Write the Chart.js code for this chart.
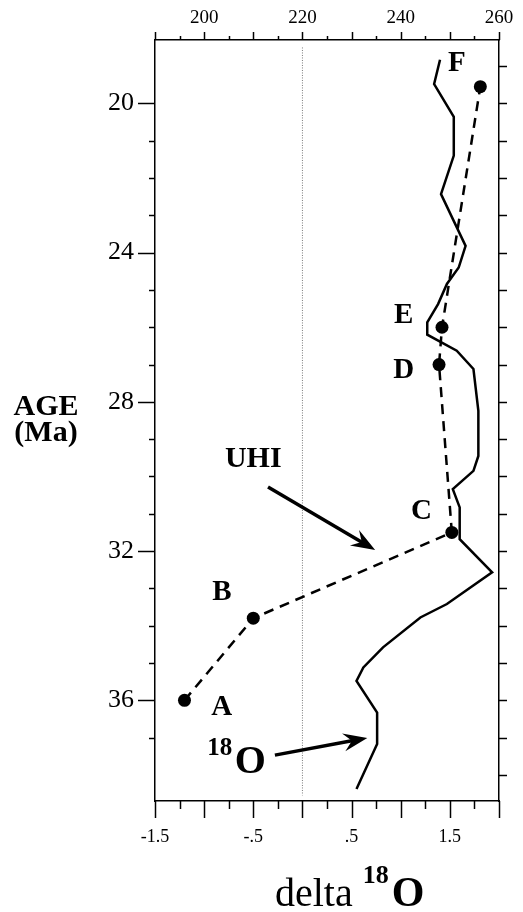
<!DOCTYPE html>
<html>
<head>
<meta charset="utf-8">
<script src="https://cdn.jsdelivr.net/npm/chart.js@4.4.1/dist/chart.umd.min.js"></script>
<style>
  body { margin: 0; background: #fff; }
  canvas { display: block; }
</style>
</head>
<body>
<canvas id="isoChart" width="523" height="912"></canvas>
<script>
// 18O curve (solid line), delta vs age in Ma
const o18Delta = [1.40, 1.34, 1.54, 1.54, 1.41, 1.66, 1.59, 1.47, 1.38, 1.27, 1.27, 1.57, 1.74, 1.79,
                  1.79, 1.74, 1.53, 1.60, 1.60, 1.93, 1.47, 1.20, 0.82, 0.62, 0.55, 0.76, 0.76, 0.55];
const o18Age = [18.83, 19.48, 20.36, 21.40, 22.43, 23.82, 24.40, 24.84, 25.38, 25.87, 26.20, 26.63, 27.12, 28.24,
                29.45, 29.85, 30.34, 30.83, 31.68, 32.57, 33.42, 33.78, 34.58, 35.12, 35.48, 36.33, 37.17, 38.38];

// UHI samples A..F (dashed line with dots)
const uhiNames = ['A', 'B', 'C', 'D', 'E', 'F'];
const uhiDelta = [-1.20, -0.50, 1.52, 1.39, 1.42, 1.81];
const uhiAge = [36.0, 33.8, 31.5, 27.0, 26.0, 19.55];

// dotted reference line at delta = 0
const refDelta = [0, 0];
const refAge = [18.5, 38.55];

// tick labels
const bottomLabels = [-1.5, -0.5, 0.5, 1.5];
const topLabels = [200, 220, 240, 260];
const ageLabels = [20, 24, 28, 32, 36];

const serif = '"Liberation Serif", "DejaVu Serif", serif';

function toPoints(xs, ys) {
    return xs.map((x, i) => ({ x: x, y: ys[i] }));
}

function isMult(v, step) {
    const r = v / step;
    return Math.abs(r - Math.round(r)) < 1e-6;
}

function hasLabel(list, v) {
    return list.some(l => Math.abs(l - v) < 1e-6);
}

// label positions for the sample letters and notes, in data units
const notes = [
    { text: 'F', d: 1.57, a: 18.92, size: 29 },
    { text: 'E', d: 1.03, a: 25.69, size: 29 },
    { text: 'D', d: 1.03, a: 27.17, size: 29 },
    { text: 'C', d: 1.21, a: 30.95, size: 29 },
    { text: 'B', d: -0.82, a: 33.12, size: 29 },
    { text: 'A', d: -0.82, a: 36.20, size: 29 },
    { text: 'UHI', d: -0.50, a: 29.55, size: 30 },
    { text: '18', d: -0.84, a: 37.30, size: 25 },
    { text: 'O', d: -0.53, a: 37.68, size: 40 }
];
const arrows = [
    { d0: -0.35, a0: 30.28, d1: 0.74, a1: 31.97 },
    { d0: -0.28, a0: 37.47, d1: 0.66, a1: 37.01 }
];

const tickSpec = {
    x: { major: v => isMult(v, 0.5), long: 17, short: 8 },
    x2: { major: v => isMult(v, 10), long: 8, short: 4 },
    y: { major: v => isMult(v, 4), long: 17, short: 6 },
    y2: { major: () => true, long: 8, short: 8 }
};

const tickPlugin = {
    id: 'outerTicks',
    afterDraw(chart) {
        const ctx = chart.ctx;
        ctx.save();
        ctx.strokeStyle = '#000';
        ctx.lineWidth = 1.5;
        Object.keys(tickSpec).forEach(id => {
            const s = chart.scales[id];
            const spec = tickSpec[id];
            s.ticks.forEach(t => {
                const p = Math.round(s.getPixelForValue(t.value)) + 0.5;
                const len = spec.major(t.value) ? spec.long : spec.short;
                ctx.beginPath();
                if (s.position === 'bottom') { ctx.moveTo(p, s.top); ctx.lineTo(p, s.top + len); }
                else if (s.position === 'top') { ctx.moveTo(p, s.bottom); ctx.lineTo(p, s.bottom - len); }
                else if (s.position === 'left') { ctx.moveTo(s.right, p); ctx.lineTo(s.right - len, p); }
                else { ctx.moveTo(s.left, p); ctx.lineTo(s.left + len, p); }
                ctx.stroke();
            });
        });
        ctx.restore();
    }
};

function drawArrow(ctx, x0, y0, x1, y1) {
    const ang = Math.atan2(y1 - y0, x1 - x0);
    const headLen = 24, headW = 9;
    ctx.lineWidth = 3.5;
    ctx.beginPath();
    ctx.moveTo(x0, y0);
    ctx.lineTo(x1 - Math.cos(ang) * headLen * 0.6, y1 - Math.sin(ang) * headLen * 0.6);
    ctx.stroke();
    ctx.save();
    ctx.translate(x1, y1);
    ctx.rotate(ang);
    ctx.beginPath();
    ctx.moveTo(0, 0);
    ctx.lineTo(-headLen, -headW);
    ctx.lineTo(-headLen * 0.65, 0);
    ctx.lineTo(-headLen, headW);
    ctx.closePath();
    ctx.fill();
    ctx.restore();
}

const notesPlugin = {
    id: 'notes',
    afterDraw(chart) {
        const ctx = chart.ctx;
        const xs = chart.scales.x, ys = chart.scales.y;
        ctx.save();
        ctx.fillStyle = '#000';
        ctx.strokeStyle = '#000';
        ctx.textAlign = 'center';
        ctx.textBaseline = 'middle';
        notes.forEach(n => {
            ctx.font = 'bold ' + n.size + 'px ' + serif;
            ctx.fillText(n.text, xs.getPixelForValue(n.d), ys.getPixelForValue(n.a));
        });
        arrows.forEach(a => {
            drawArrow(ctx, xs.getPixelForValue(a.d0), ys.getPixelForValue(a.a0),
                xs.getPixelForValue(a.d1), ys.getPixelForValue(a.a1));
        });

        // axis titles
        ctx.textAlign = 'center';
        ctx.textBaseline = 'alphabetic';
        ctx.font = 'bold 30px ' + serif;
        ctx.fillText('AGE', 46, 415);
        ctx.fillText('(Ma)', 46, 441);

        ctx.textAlign = 'left';
        let x = 275;
        ctx.font = '40px ' + serif;
        ctx.fillText('delta', x, 906);
        x += ctx.measureText('delta').width + 10;
        ctx.font = 'bold 26px ' + serif;
        ctx.fillText('18', x, 883);
        x += ctx.measureText('18').width + 3;
        ctx.font = 'bold 42px ' + serif;
        ctx.fillText('O', x, 906);
        ctx.restore();
    }
};

const axisBorder = { display: true, color: '#000', width: 1.5 };

new Chart(document.getElementById('isoChart'), {
    type: 'scatter',
    data: {
        datasets: [
            {
                label: 'UHI',
                data: toPoints(uhiDelta, uhiAge),
                showLine: true,
                borderColor: '#000',
                borderWidth: 2.5,
                borderDash: [10, 7],
                pointRadius: 6.5,
                pointBackgroundColor: '#000',
                pointBorderWidth: 0,
                xAxisID: 'x',
                yAxisID: 'y'
            },
            {
                label: '18O',
                data: toPoints(o18Delta, o18Age),
                showLine: true,
                borderColor: '#000',
                borderWidth: 2.5,
                pointRadius: 0,
                xAxisID: 'x',
                yAxisID: 'y'
            },
            {
                label: 'ref',
                data: toPoints(refDelta, refAge),
                showLine: true,
                borderColor: '#777',
                borderWidth: 1,
                borderDash: [1, 1.5],
                pointRadius: 0,
                xAxisID: 'x',
                yAxisID: 'y'
            }
        ]
    },
    options: {
        responsive: false,
        animation: false,
        events: [],
        layout: { padding: 0 },
        plugins: {
            legend: { display: false },
            tooltip: { enabled: false }
        },
        scales: {
            x: {
                type: 'linear',
                position: 'bottom',
                min: -1.5,
                max: 2,
                grid: { display: false, drawTicks: true, tickLength: 17 },
                border: axisBorder,
                ticks: {
                    stepSize: 0.25,
                    autoSkip: false,
                    maxRotation: 0,
                    padding: 8,
                    color: '#000',
                    font: { family: serif, size: 18 },
                    callback: v => hasLabel(bottomLabels, v) ? String(v).replace('0.', '.') : ''
                },
                afterFit: s => { s.height = 111; }
            },
            x2: {
                type: 'linear',
                position: 'top',
                min: 190,
                max: 260,
                grid: { display: false, drawTicks: true, tickLength: 8 },
                border: axisBorder,
                ticks: {
                    stepSize: 5,
                    autoSkip: false,
                    maxRotation: 0,
                    padding: 3,
                    color: '#000',
                    font: { family: serif, size: 19 },
                    callback: v => hasLabel(topLabels, v) ? String(v) : ''
                },
                afterFit: s => { s.height = 40; }
            },
            y: {
                type: 'linear',
                position: 'left',
                reverse: true,
                min: 18.3,
                max: 38.7,
                grid: { display: false, drawTicks: true, tickLength: 17 },
                border: axisBorder,
                afterBuildTicks: s => { s.ticks = s.ticks.filter(t => isMult(t.value, 1)); },
                ticks: {
                    stepSize: 1,
                    autoSkip: false,
                    padding: 4,
                    color: '#000',
                    font: { family: serif, size: 26 },
                    callback: v => hasLabel(ageLabels, v) ? String(v) : ''
                },
                afterFit: s => { s.width = 155; }
            },
            y2: {
                type: 'linear',
                position: 'right',
                reverse: true,
                min: 18.3,
                max: 38.7,
                grid: { display: false, drawTicks: true, tickLength: 8 },
                border: axisBorder,
                afterBuildTicks: s => { s.ticks = s.ticks.filter(t => isMult(t.value, 1)); },
                ticks: { stepSize: 1, display: false },
                afterFit: s => { s.width = 24; }
            }
        }
    },
    plugins: [tickPlugin, notesPlugin]
});
</script>
</body>
</html>
